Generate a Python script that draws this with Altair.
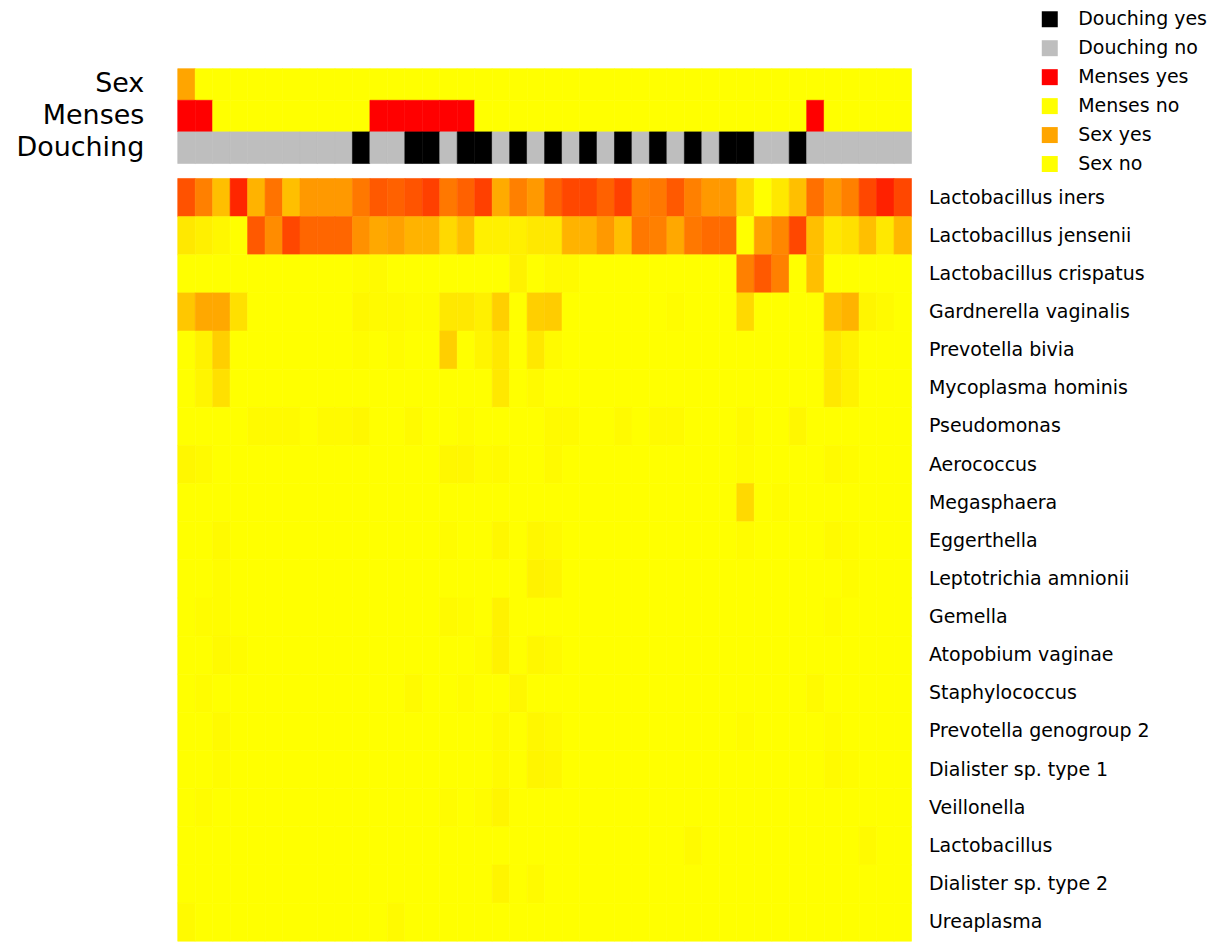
import altair as alt
import pandas as pd

FONT = "DejaVu Sans"

taxa = [
    "Lactobacillus iners", "Lactobacillus jensenii", "Lactobacillus crispatus",
    "Gardnerella vaginalis", "Prevotella bivia", "Mycoplasma hominis",
    "Pseudomonas", "Aerococcus", "Megasphaera", "Eggerthella",
    "Leptotrichia amnionii", "Gemella", "Atopobium vaginae", "Staphylococcus",
    "Prevotella genogroup 2", "Dialister sp. type 1", "Veillonella",
    "Lactobacillus", "Dialister sp. type 2", "Ureaplasma",
]

l_iners = [0.68, 0.50, 0.25, 0.85, 0.30, 0.55, 0.25, 0.40, 0.40, 0.40,
           0.53, 0.65, 0.62, 0.67, 0.75, 0.53, 0.62, 0.75, 0.33, 0.50,
           0.40, 0.62, 0.72, 0.72, 0.62, 0.75, 0.50, 0.53, 0.65, 0.50,
           0.40, 0.40, 0.15, 0.00, 0.09, 0.25, 0.56, 0.40, 0.50, 0.72,
           0.87, 0.72]
l_jensenii = [0.09, 0.06, 0.03, 0.00, 0.65, 0.45, 0.72, 0.60, 0.60, 0.60,
              0.43, 0.34, 0.37, 0.30, 0.30, 0.15, 0.25, 0.06, 0.06, 0.06,
              0.09, 0.09, 0.30, 0.30, 0.40, 0.25, 0.53, 0.50, 0.34, 0.53,
              0.58, 0.58, 0.00, 0.37, 0.47, 0.72, 0.25, 0.09, 0.12, 0.25,
              0.09, 0.28]
l_crispatus = [0, 0, 0, 0, 0, 0, 0, 0, 0, 0,
               0.01, 0.02, 0, 0, 0, 0, 0, 0, 0, 0.05,
               0, 0.02, 0.02, 0, 0, 0, 0, 0, 0, 0,
               0, 0, 0.50, 0.65, 0.50, 0, 0.25, 0, 0, 0,
               0, 0]
g_vaginalis = [0.22, 0.34, 0.34, 0.12, 0, 0, 0, 0, 0, 0,
               0.03, 0.02, 0.02, 0.01, 0.01, 0.09, 0.09, 0.06, 0.19, 0,
               0.19, 0.20, 0, 0, 0, 0, 0, 0, 0.01, 0,
               0, 0, 0.15, 0, 0, 0, 0, 0.25, 0.30, 0.04,
               0.02, 0]
p_bivia = [0, 0.05, 0.19, 0, 0, 0, 0, 0, 0, 0,
           0.01, 0, 0.01, 0, 0, 0.19, 0, 0.04, 0.09, 0,
           0.09, 0.02, 0, 0, 0, 0, 0, 0, 0, 0,
           0, 0, 0, 0, 0, 0, 0, 0.09, 0.05, 0,
           0, 0]
m_hominis = [0, 0.04, 0.12, 0, 0, 0, 0, 0, 0, 0,
             0, 0, 0, 0, 0, 0, 0, 0, 0.09, 0,
             0.02, 0, 0, 0, 0, 0, 0, 0, 0, 0,
             0, 0, 0, 0, 0, 0, 0, 0.09, 0.05, 0,
             0, 0]
pseudomonas = [0, 0, 0, 0, 0.02, 0.02, 0.02, 0, 0.02, 0.02,
               0.03, 0, 0, 0.02, 0, 0, 0.01, 0, 0, 0,
               0, 0.02, 0.02, 0, 0, 0.02, 0, 0.02, 0.02, 0,
               0, 0, 0.02, 0, 0, 0.03, 0, 0, 0, 0,
               0, 0]
aerococcus = [0.03, 0.02, 0, 0, 0, 0, 0, 0, 0, 0,
              0, 0, 0, 0, 0, 0.03, 0.03, 0.01, 0.02, 0,
              0, 0.02, 0, 0, 0, 0, 0, 0, 0, 0,
              0, 0, 0.01, 0, 0, 0, 0, 0.02, 0.01, 0,
              0, 0]
megasphaera = [0, 0, 0, 0, 0, 0, 0, 0, 0, 0,
               0, 0, 0, 0, 0, 0, 0, 0, 0, 0,
               0, 0, 0, 0, 0, 0, 0, 0, 0, 0,
               0, 0, 0.15, 0, 0.01, 0, 0, 0, 0, 0,
               0, 0]
eggerthella = [0, 0, 0.02, 0, 0, 0, 0, 0, 0, 0,
               0, 0, 0, 0, 0, 0.01, 0, 0, 0.03, 0,
               0.03, 0.02, 0, 0, 0, 0, 0, 0, 0, 0,
               0, 0, 0.01, 0, 0, 0, 0, 0.02, 0.01, 0,
               0, 0]
leptotrichia = [0, 0, 0.01, 0, 0, 0, 0, 0, 0, 0,
                0, 0, 0, 0, 0, 0, 0, 0, 0, 0,
                0.05, 0.04, 0, 0, 0, 0, 0, 0, 0, 0,
                0, 0, 0, 0, 0, 0, 0, 0, 0.01, 0,
                0, 0]
gemella = [0, 0.01, 0.01, 0, 0, 0, 0, 0, 0, 0,
           0, 0, 0, 0, 0, 0.02, 0.01, 0, 0.05, 0,
           0, 0, 0, 0, 0, 0, 0, 0, 0, 0,
           0, 0, 0, 0, 0, 0, 0, 0.01, 0, 0,
           0, 0]
atopobium = [0, 0, 0.02, 0.01, 0, 0, 0, 0, 0, 0,
             0, 0, 0, 0, 0, 0, 0, 0.01, 0.05, 0,
             0.03, 0.02, 0, 0, 0, 0, 0, 0, 0, 0,
             0, 0, 0, 0, 0, 0, 0, 0, 0, 0,
             0, 0]
staphylococcus = [0, 0.01, 0, 0, 0, 0, 0, 0, 0, 0,
                  0, 0, 0, 0.02, 0, 0, 0.01, 0, 0, 0.03,
                  0, 0, 0, 0, 0, 0, 0, 0, 0, 0,
                  0, 0, 0, 0, 0, 0, 0.02, 0, 0, 0,
                  0, 0]
prevotella_g2 = [0, 0, 0.02, 0, 0, 0, 0, 0, 0, 0,
                 0, 0, 0, 0, 0, 0, 0, 0, 0.02, 0,
                 0.03, 0.02, 0, 0, 0, 0, 0, 0, 0, 0,
                 0, 0, 0.01, 0, 0, 0, 0, 0.01, 0, 0,
                 0, 0]
dialister_1 = [0, 0, 0.01, 0, 0, 0, 0, 0, 0, 0,
               0, 0, 0, 0, 0, 0, 0, 0, 0.02, 0,
               0.04, 0.03, 0, 0, 0, 0, 0, 0, 0, 0,
               0, 0, 0, 0, 0, 0, 0, 0.02, 0.01, 0,
               0, 0]
veillonella = [0, 0.01, 0, 0, 0, 0, 0, 0, 0, 0,
               0, 0, 0, 0, 0, 0.01, 0, 0.01, 0.04, 0,
               0, 0, 0, 0, 0, 0, 0, 0, 0, 0,
               0, 0, 0, 0, 0, 0, 0, 0, 0, 0,
               0, 0]
lactobacillus = [0, 0, 0, 0, 0, 0, 0, 0, 0, 0,
                 0, 0, 0, 0, 0, 0, 0, 0, 0, 0,
                 0, 0, 0, 0, 0, 0, 0, 0, 0, 0.02,
                 0, 0, 0, 0, 0, 0, 0, 0, 0, 0.02,
                 0, 0]
dialister_2 = [0, 0, 0, 0, 0, 0, 0, 0, 0, 0,
               0, 0, 0, 0, 0, 0, 0, 0, 0.04, 0,
               0.02, 0, 0, 0, 0, 0, 0, 0, 0, 0,
               0, 0, 0, 0, 0, 0, 0, 0, 0, 0,
               0, 0]
ureaplasma = [0.02, 0, 0, 0, 0, 0, 0, 0, 0, 0,
              0, 0, 0.02, 0, 0, 0, 0, 0, 0, 0,
              0, 0, 0, 0, 0, 0, 0, 0, 0, 0,
              0, 0, 0, 0, 0, 0, 0, 0, 0, 0,
              0, 0]

rows = [l_iners, l_jensenii, l_crispatus, g_vaginalis, p_bivia, m_hominis,
        pseudomonas, aerococcus, megasphaera, eggerthella, leptotrichia,
        gemella, atopobium, staphylococcus, prevotella_g2, dialister_1,
        veillonella, lactobacillus, dialister_2, ureaplasma]

# annotation tracks (1 = yes, 0 = no)
sex = [1, 0, 0, 0, 0, 0, 0, 0, 0, 0,
       0, 0, 0, 0, 0, 0, 0, 0, 0, 0,
       0, 0, 0, 0, 0, 0, 0, 0, 0, 0,
       0, 0, 0, 0, 0, 0, 0, 0, 0, 0,
       0, 0]
menses = [1, 1, 0, 0, 0, 0, 0, 0, 0, 0,
          0, 1, 1, 1, 1, 1, 1, 0, 0, 0,
          0, 0, 0, 0, 0, 0, 0, 0, 0, 0,
          0, 0, 0, 0, 0, 0, 1, 0, 0, 0,
          0, 0]
douching = [0, 0, 0, 0, 0, 0, 0, 0, 0, 0,
            1, 0, 0, 1, 1, 0, 1, 1, 0, 1,
            0, 1, 0, 1, 0, 1, 0, 1, 0, 1,
            0, 1, 1, 0, 0, 1, 0, 0, 0, 0,
            0, 0]

ann_vars = ["Sex", "Menses", "Douching"]
legend_labels = ["Douching yes", "Douching no", "Menses yes", "Menses no", "Sex yes", "Sex no"]
legend_colors = ["#000000", "#bebebe", "#ff0000", "#ffff00", "#ffa500", "#ffff00"]

heat_df = pd.DataFrame(
    [{"col": c, "taxon": t, "value": v} for t, r in zip(taxa, rows) for c, v in enumerate(r)]
)
ann_records = []
for name, track in zip(ann_vars, [sex, menses, douching]):
    for c, flag in enumerate(track):
        ann_records.append({"col": c, "var": name, "label": f"{name} {'yes' if flag else 'no'}"})
ann_df = pd.DataFrame(ann_records)

band = alt.Scale(paddingInner=0, paddingOuter=0)
ann_scale = alt.Scale(domain=legend_labels, range=legend_colors)
heat_scale = alt.Scale(domain=[0, 1], range=["#ffff00", "#ff0000"], interpolate="rgb")

ann = alt.Chart(ann_df).mark_rect(strokeWidth=0.6).encode(
    x=alt.X("col:O", axis=None, scale=band),
    y=alt.Y("var:N", sort=ann_vars, scale=band,
            axis=alt.Axis(title=None, orient="left", ticks=False, domain=False,
                          labelPadding=34, labelFontSize=27, labelFont=FONT,
                          labelColor="black", labelLimit=400)),
    color=alt.Color("label:N", scale=ann_scale,
                    legend=alt.Legend(title=None, orient="none", legendX=864, legendY=-59,
                                      symbolType="square", symbolSize=256,
                                      symbolStrokeWidth=0, labelFontSize=19,
                                      labelFont=FONT, labelColor="black",
                                      labelOffset=19, rowPadding=9, padding=0,
                                      labelLimit=400)),
    stroke=alt.Stroke("label:N", scale=ann_scale, legend=None),
).properties(width=735, height=95)

heat = alt.Chart(heat_df).mark_rect(strokeWidth=0.6).encode(
    x=alt.X("col:O", axis=None, scale=band),
    y=alt.Y("taxon:N", sort=taxa, scale=band,
            axis=alt.Axis(title=None, orient="right", ticks=False, domain=False,
                          labelPadding=17, labelFontSize=19, labelFont=FONT,
                          labelColor="black", labelLimit=400)),
    color=alt.Color("value:Q", scale=heat_scale, legend=None),
    stroke=alt.Stroke("value:Q", scale=heat_scale, legend=None),
).properties(width=735, height=764)

chart = (
    alt.vconcat(ann, heat, spacing=15, bounds="flush")
    .resolve_scale(color="independent", stroke="independent")
    .properties(padding={"left": 7, "top": 1, "right": 5, "bottom": 0})
    .configure_view(strokeWidth=0)
)

chart.save("out.html", embed_options={"renderer": "svg", "actions": False})
